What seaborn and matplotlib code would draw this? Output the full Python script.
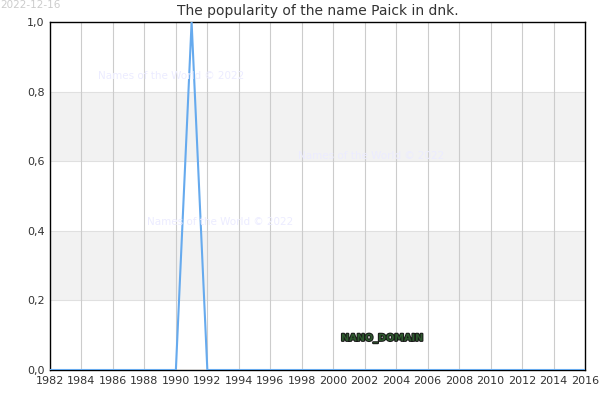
import numpy as np
import pandas as pd
import matplotlib
matplotlib.use("Agg")
import matplotlib.pyplot as plt
import matplotlib.patheffects as pe
import matplotlib.ticker as ticker
import seaborn as sns

# data
years = list(range(1982, 2017))
popularity = [0.0] * len(years)
popularity[years.index(1991)] = 1.0
y_ticks = [0.0, 0.2, 0.4, 0.6, 0.8, 1.0]
x_ticks = list(range(1982, 2017, 2))
title = "The popularity of the name Paick in dnk."

df = pd.DataFrame({"year": years, "popularity": popularity})

sns.set_style("white")
plt.rcParams["font.family"] = ["DejaVu Sans"]

fig = plt.figure(figsize=(6, 4), dpi=100)
ax = fig.add_axes([0.0833, 0.075, 0.8917, 0.87])

# alternating bands
for lo, hi in [(0.2, 0.4), (0.6, 0.8)]:
    ax.axhspan(lo, hi, color="#f2f2f2", zorder=0, lw=0)
for lo in [0.2, 0.4, 0.6, 0.8]:
    ax.axhline(lo, color="#e0e0e0", lw=0.8, zorder=0)
for x in x_ticks[1:-1]:
    ax.axvline(x, color="#cccccc", lw=0.8, zorder=1)

sns.lineplot(data=df, x="year", y="popularity", ax=ax, color="#66aaee",
             lw=1.5, zorder=3)

ax.set_xlim(1982, 2016)
ax.set_ylim(0, 1.0)
ax.set_xticks(x_ticks)
ax.set_yticks(y_ticks)
ax.yaxis.set_major_formatter(ticker.FuncFormatter(lambda v, _: f"{v:.1f}".replace(".", ",")))
ax.tick_params(labelsize=8, colors="#333333", length=0, pad=4)
ax.set_xlabel("")
ax.set_ylabel("")
for s in ax.spines.values():
    s.set_color("black")
    s.set_linewidth(1.0)

ax.set_title(title, fontsize=10, color="#333333", pad=5)

fig.text(0.0, 1.0, "2022-12-16", fontsize=7.5, color="#cccccc", va="top", ha="left")
for (px, py) in [(171, 76), (371, 156), (220, 222)]:
    fig.text(px / 600, 1 - py / 400, "Names of the World © 2022", fontsize=7.5,
             color="#ececff", ha="center", va="center", zorder=5)
fig.text(382 / 600, 1 - 338 / 400, "NANO_DOMAIN", fontsize=7, color="#2e5a2e",
         ha="center", va="center", fontweight="bold",
         path_effects=[pe.withStroke(linewidth=1.5, foreground="#1a1a1a")])

fig.savefig("out.png", dpi=100)
